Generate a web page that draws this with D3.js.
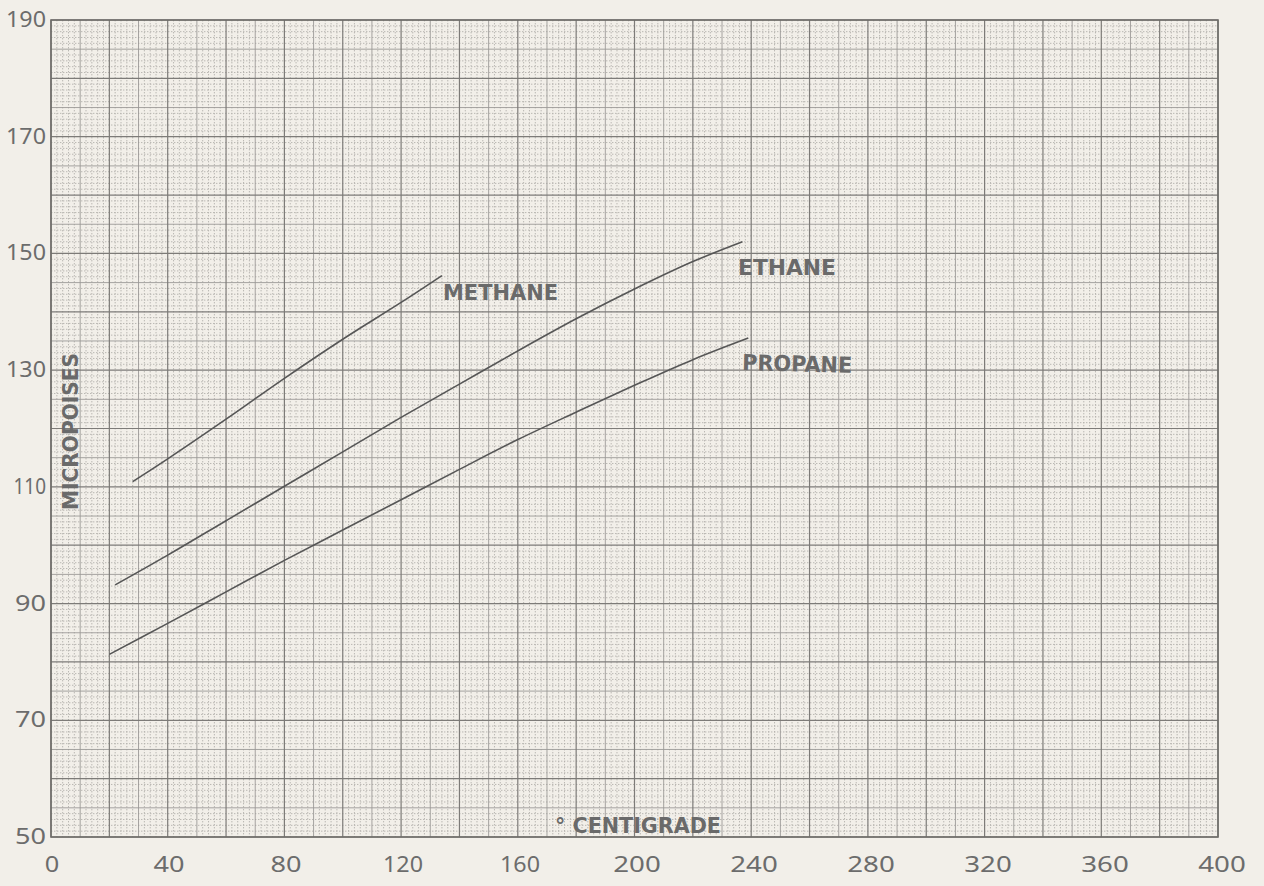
<!doctype html>
<html lang="en">
<head>
    <meta charset="utf-8">
    <title>Viscosity of methane, ethane and propane</title>
    <script src="https://d3js.org/d3.v7.min.js"></script>
    <style type="text/css">
    body { margin: 0; background: #f2efe9; }
    text { font-family: "Noto Sans", "DejaVu Sans", sans-serif; fill: #6c6c6c; }
    .tick-label { font-size: 21px; }
    .curve-label { font-family: "DejaVu Sans Condensed", "DejaVu Sans", sans-serif; font-weight: bold; font-size: 22px; fill: #6a6a6a; }
    </style>
</head>

<body>
</body>

<script type="text/javascript">

    // degrees centigrade vs micropoises
    var methaneTemp = [28, 40, 60, 80, 100, 120, 134];
    var methaneVisc = [110.9, 114.8, 121.6, 128.6, 135.3, 141.6, 146.2];

    var ethaneTemp = [22, 40, 60, 80, 100, 120, 140, 160, 180, 200, 220, 237];
    var ethaneVisc = [93.2, 98.3, 104.2, 110.1, 116.0, 121.9, 127.6, 133.3, 138.8, 143.9, 148.6, 152.0];

    var propaneTemp = [20, 40, 60, 80, 100, 120, 140, 160, 180, 200, 220, 239];
    var propaneVisc = [81.3, 86.6, 92.0, 97.4, 102.6, 107.8, 113.0, 118.1, 122.8, 127.4, 131.8, 135.5];

    var xTicks = [0, 40, 80, 120, 160, 200, 240, 280, 320, 360, 400];
    var yTicks = [50, 70, 90, 110, 130, 150, 170, 190];

    var width = 1264, height = 886;

    var x = d3.scaleLinear().domain([0, 400]).range([51, 1218]);
    var y = d3.scaleLinear().domain([50, 190]).range([837, 20]);

    // the printed digits are wide, so stretch each label a bit
    function labelWidth(s) {
      var w = 0;
      String(s).split("").forEach(c => { w += (c == "1") ? 7 : 14.5; });
      return w + (String(s).length - 1) * 2;
    }

    var svg = d3.select("body")
    .append("svg")
    .attr("width", width)
    .attr("height", height);

    svg.append("rect")
    .attr("width", width)
    .attr("height", height)
    .attr("fill", "#f2efe9");

    var grid = svg.append("g");

    // fine dotted rulings: every 2 deg and every 1 micropoise
    grid.selectAll(".fx")
    .data(d3.range(0, 401, 2).filter(d => d % 10 != 0))
    .enter().append("line")
    .attr("x1", d => x(d)).attr("x2", d => x(d))
    .attr("y1", y(190)).attr("y2", y(50))
    .attr("stroke", "#b3b1ad")
    .attr("stroke-width", 0.9)
    .attr("stroke-dasharray", "1.4 1.6");

    grid.selectAll(".fy")
    .data(d3.range(50, 191, 1).filter(d => d % 5 != 0))
    .enter().append("line")
    .attr("y1", d => y(d)).attr("y2", d => y(d))
    .attr("x1", x(0)).attr("x2", x(400))
    .attr("stroke", "#b3b1ad")
    .attr("stroke-width", 0.9)
    .attr("stroke-dasharray", "1.4 1.6");

    // medium rulings
    grid.selectAll(".mx")
    .data(d3.range(10, 400, 20))
    .enter().append("line")
    .attr("x1", d => x(d)).attr("x2", d => x(d))
    .attr("y1", y(190)).attr("y2", y(50))
    .attr("stroke", "#9c9a97")
    .attr("stroke-width", 0.9);

    grid.selectAll(".my")
    .data(d3.range(55, 190, 10))
    .enter().append("line")
    .attr("y1", d => y(d)).attr("y2", d => y(d))
    .attr("x1", x(0)).attr("x2", x(400))
    .attr("stroke", "#9c9a97")
    .attr("stroke-width", 0.9);

    // heavy rulings
    grid.selectAll(".Mx")
    .data(d3.range(0, 401, 20))
    .enter().append("line")
    .attr("x1", d => x(d)).attr("x2", d => x(d))
    .attr("y1", y(190)).attr("y2", y(50))
    .attr("stroke", "#7d7b78")
    .attr("stroke-width", 1.2);

    grid.selectAll(".My")
    .data(d3.range(50, 191, 10))
    .enter().append("line")
    .attr("y1", d => y(d)).attr("y2", d => y(d))
    .attr("x1", x(0)).attr("x2", x(400))
    .attr("stroke", "#7d7b78")
    .attr("stroke-width", 1.2);

    svg.append("rect")
    .attr("x", x(0)).attr("y", y(190))
    .attr("width", x(400) - x(0)).attr("height", y(50) - y(190))
    .attr("fill", "none")
    .attr("stroke", "#6f6d6a")
    .attr("stroke-width", 1.6);

    // tick labels
    svg.selectAll(".xl")
    .data(xTicks)
    .enter().append("text")
    .attr("class", "tick-label")
    .attr("x", d => x(d) + 1 + d / 133 - labelWidth(d) / 2)
    .attr("y", 872)
    .attr("textLength", d => labelWidth(d))
    .attr("lengthAdjust", "spacingAndGlyphs")
    .text(d => d);

    svg.selectAll(".yl")
    .data(yTicks)
    .enter().append("text")
    .attr("class", "tick-label")
    .attr("x", d => 46 - labelWidth(d))
    .attr("y", d => y(d) + 7)
    .attr("textLength", d => labelWidth(d))
    .attr("lengthAdjust", "spacingAndGlyphs")
    .text(d => d);

    var line = d3.line()
    .x(d => x(d[0]))
    .y(d => y(d[1]))
    .curve(d3.curveCatmullRom.alpha(0.5));

    var gases = [
      {name: "METHANE", pts: d3.zip(methaneTemp, methaneVisc)},
      {name: "ETHANE",  pts: d3.zip(ethaneTemp, ethaneVisc)},
      {name: "PROPANE", pts: d3.zip(propaneTemp, propaneVisc)}
    ];

    svg.selectAll(".gas")
    .data(gases)
    .enter().append("path")
    .attr("d", d => line(d.pts))
    .attr("fill", "none")
    .attr("stroke", "#565656")
    .attr("stroke-width", 1.6);

    // curve labels
    var lab = [
      {t: "METHANE", x: 443, y: 300, w: 115, r: 0},
      {t: "ETHANE",  x: 738, y: 275, w: 98,  r: 0},
      {t: "PROPANE", x: 742, y: 370, w: 110, r: 1.5}
    ];

    svg.selectAll(".cl")
    .data(lab)
    .enter().append("text")
    .attr("class", "curve-label")
    .attr("transform", d => "translate(" + d.x + "," + d.y + ") rotate(" + d.r + ")")
    .attr("textLength", d => d.w)
    .attr("lengthAdjust", "spacingAndGlyphs")
    .text(d => d.t);

    svg.append("text")
    .attr("class", "curve-label")
    .attr("transform", "translate(78,510) rotate(-90)")
    .attr("textLength", 157)
    .attr("lengthAdjust", "spacingAndGlyphs")
    .text("MICROPOISES");

    svg.append("text")
    .attr("class", "curve-label")
    .attr("x", 555)
    .attr("y", 833)
    .attr("textLength", 166)
    .attr("lengthAdjust", "spacingAndGlyphs")
    .text("° CENTIGRADE");

</script>
</html>
